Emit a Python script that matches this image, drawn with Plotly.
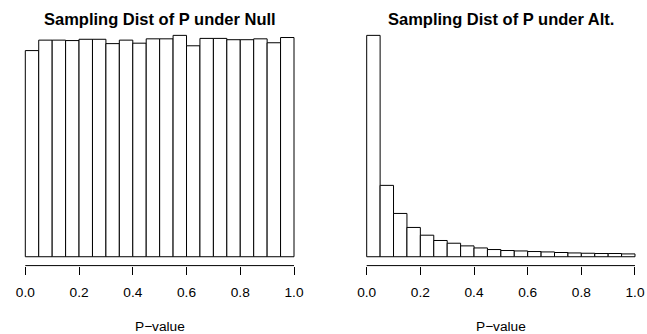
import plotly.graph_objects as go

# ---- data ----
bin_left = [0.00, 0.05, 0.10, 0.15, 0.20, 0.25, 0.30, 0.35, 0.40, 0.45,
            0.50, 0.55, 0.60, 0.65, 0.70, 0.75, 0.80, 0.85, 0.90, 0.95]
bin_width = 0.05
null_counts = [474, 498, 498, 497, 500, 500, 490, 498, 491, 501,
               501, 509, 485, 502, 502, 499, 499, 501, 492, 504]
alt_counts = [4550, 1467, 890, 602, 443, 334, 278, 223, 181, 148,
              128, 119, 107, 99, 87, 78, 72, 66, 66, 58]
tick_vals = [0.0, 0.2, 0.4, 0.6, 0.8, 1.0]
tick_text = ["0.0", "0.2", "0.4", "0.6", "0.8", "1.0"]
titles = ["Sampling Dist of P under Null", "Sampling Dist of P under Alt."]
xlabel = "P\u2212value"

W, H = 647, 334
FONT = "Liberation Sans, Arial, Helvetica, sans-serif"

# pixel geometry of the two panels (positions of x=0 and x=1)
panels = [(25.3, 294.0), (366.7, 635.0)]
y_top_px, y_bot_px = 26.5, 265.6


def fx(px):
    return px / W


def fy(py):
    return 1 - py / H


mids = [b + bin_width / 2 for b in bin_left]

fig = go.Figure()
layout = dict(
    template="none",
    width=W, height=H, margin=dict(l=0, r=0, t=0, b=0, pad=0),
    plot_bgcolor="white", paper_bgcolor="white",
    showlegend=False, bargap=0, annotations=[], shapes=[],
    font=dict(family=FONT, color="black"),
)

for i, (counts, (p0, p1)) in enumerate(zip([null_counts, alt_counts], panels)):
    span = p1 - p0
    xa = "xaxis" if i == 0 else "xaxis%d" % (i + 1)
    ya = "yaxis" if i == 0 else "yaxis%d" % (i + 1)
    xr = "x" if i == 0 else "x%d" % (i + 1)
    yr = "y" if i == 0 else "y%d" % (i + 1)

    fig.add_trace(go.Bar(
        x=mids, y=counts, width=bin_width,
        marker=dict(color="white", line=dict(color="black", width=1)),
        xaxis=xr, yaxis=yr, hoverinfo="skip",
    ))

    dom = [fx(p0 - 0.04 * span), fx(p1 + 0.04 * span)]
    mx = max(counts)

    layout[xa] = dict(domain=dom, range=[-0.04, 1.04], anchor=yr,
                      automargin=False, showline=False, showgrid=False,
                      zeroline=False, ticks="outside", ticklen=8,
                      tickcolor="black", tickwidth=1,
                      tickvals=tick_vals, ticktext=tick_text,
                      ticklabelstandoff=6,
                      tickfont=dict(size=13.7, family=FONT, color="black"))
    layout[ya] = dict(domain=[fy(y_bot_px), fy(y_top_px)],
                      range=[-0.04 * mx, 1.04 * mx], anchor=xr,
                      automargin=False, visible=False)

    # axis line from 0 to 1, as R draws it
    layout["shapes"].append(dict(
        type="line", xref=xr, x0=tick_vals[0], x1=tick_vals[-1],
        yref="%s domain" % yr, y0=0, y1=0,
        line=dict(color="black", width=1)))

    cx = (dom[0] + dom[1]) / 2
    layout["annotations"].append(dict(
        text="<b>%s</b>" % titles[i], x=cx, y=fy(19),
        xref="paper", yref="paper", xanchor="center", yanchor="middle",
        showarrow=False, font=dict(size=16.5, family=FONT, color="black")))
    layout["annotations"].append(dict(
        text=xlabel, x=fx((p0 + p1) / 2), y=fy(326),
        xref="paper", yref="paper", xanchor="center", yanchor="middle",
        showarrow=False, font=dict(size=13.7, family=FONT, color="black")))

fig.update_layout(**layout)

# remove the browser's default page margin so the figure sits at (0, 0)
no_margin_js = (
    "document.documentElement.style.margin='0';"
    "document.documentElement.style.overflow='hidden';"
    "document.body.style.margin='0';"
    "document.body.style.overflow='hidden';"
)
fig.write_html("out.html", post_script=no_margin_js,
               config={"displayModeBar": False, "staticPlot": True})
